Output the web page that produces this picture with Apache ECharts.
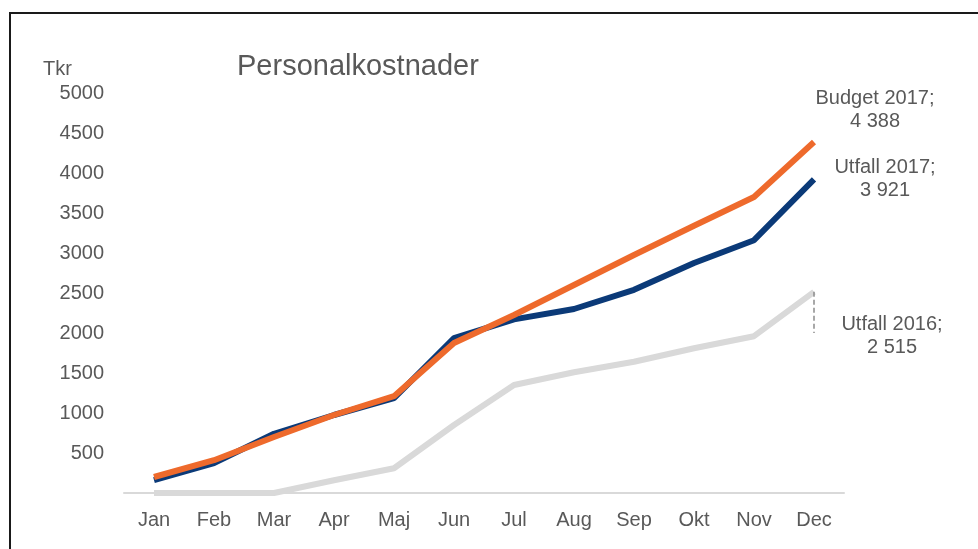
<!DOCTYPE html>
<html>
<head>
<meta charset="utf-8">
<script src="https://cdn.jsdelivr.net/npm/echarts@6/dist/echarts.min.js"></script>
<style>
  html, body { margin: 0; padding: 0; background: #fff; overflow: hidden; }
  #frame { position: absolute; left: 9px; top: 12px; width: 1100px; height: 700px; border: 2px solid #1a1a1a; box-sizing: border-box; }
  #chart { position: absolute; left: 0; top: 0; width: 978px; height: 549px; }
</style>
</head>
<body>
<div id="frame"></div>
<div id="chart"></div>
<script>
// data
var months = ['Jan', 'Feb', 'Mar', 'Apr', 'Maj', 'Jun', 'Jul', 'Aug', 'Sep', 'Okt', 'Nov', 'Dec']
var budget2017 = [200, 410, 700, 975, 1210, 1875, 2225, 2600, 2975, 3340, 3700, 4388]
var utfall2017 = [160, 375, 740, 975, 1185, 1935, 2170, 2300, 2540, 2875, 3160, 3921]
var utfall2016 = [0, 0, 0, 160, 310, 850, 1350, 1510, 1640, 1810, 1960, 2515]

var textColor = '#595959'
var font = 'Liberation Sans, Arial, sans-serif'

// 4388 -> "4 388"
function fmt(v) {
  return String(v).replace(/\B(?=(\d{3})+(?!\d))/g, ' ')
}

var chart = echarts.init(document.getElementById('chart'))

function endLabel(dx, dy) {
  return {
    show: true,
    align: 'center',
    distance: 5,
    offset: [dx, dy],
    color: textColor,
    fontFamily: font,
    fontSize: 20,
    lineHeight: 23,
    formatter: function (p) {
      return p.seriesName + ';\n' + fmt(p.value)
    }
  }
}

chart.setOption({
  animation: false,
  title: [{
    text: 'Personalkostnader',
    left: 232,
    top: 47,
    textStyle: { color: textColor, fontFamily: font, fontSize: 29, fontWeight: 'normal' }
  }, {
    text: 'Tkr',
    left: 38,
    top: 54,
    textStyle: { color: textColor, fontFamily: font, fontSize: 20, fontWeight: 'normal' }
  }],
  grid: {
    left: 124,
    right: 134,
    top: 93,
    bottom: 56,
    containLabel: false
  },
  xAxis: {
    type: 'category',
    data: months,
    boundaryGap: true,
    axisTick: { show: false },
    axisLine: { lineStyle: { color: '#d9d9d9', width: 2 } },
    axisLabel: { color: textColor, fontFamily: font, fontSize: 20, margin: 17 }
  },
  yAxis: {
    type: 'value',
    min: 0,
    max: 5000,
    interval: 500,
    splitLine: { show: false },
    axisLine: { show: false },
    axisTick: { show: false },
    axisLabel: {
      color: textColor,
      fontFamily: font,
      fontSize: 20,
      margin: 20,
      formatter: function (v) { return v === 0 ? '' : v }
    }
  },
  series: [{
    name: 'Utfall 2016',
    type: 'line',
    data: utfall2016,
    showSymbol: false,
    lineStyle: { color: '#d9d9d9', width: 6 },
    itemStyle: { color: '#d9d9d9' },
    endLabel: endLabel(73, 44),
    markLine: {
      silent: true,
      symbol: 'none',
      label: { show: false },
      lineStyle: { color: '#8c8c8c', type: [5, 3], width: 1.5 },
      data: [[
        { coord: [11, utfall2016[11]] },
        { coord: [11, 2000] }
      ]]
    }
  }, {
    name: 'Utfall 2017',
    type: 'line',
    data: utfall2017,
    showSymbol: false,
    lineStyle: { color: '#0b3a78', width: 6 },
    itemStyle: { color: '#0b3a78' },
    endLabel: endLabel(66, 0)
  }, {
    name: 'Budget 2017',
    type: 'line',
    data: budget2017,
    showSymbol: false,
    lineStyle: { color: '#ee6a2c', width: 6 },
    itemStyle: { color: '#ee6a2c' },
    endLabel: endLabel(56, -32)
  }]
})
</script>
</body>
</html>
